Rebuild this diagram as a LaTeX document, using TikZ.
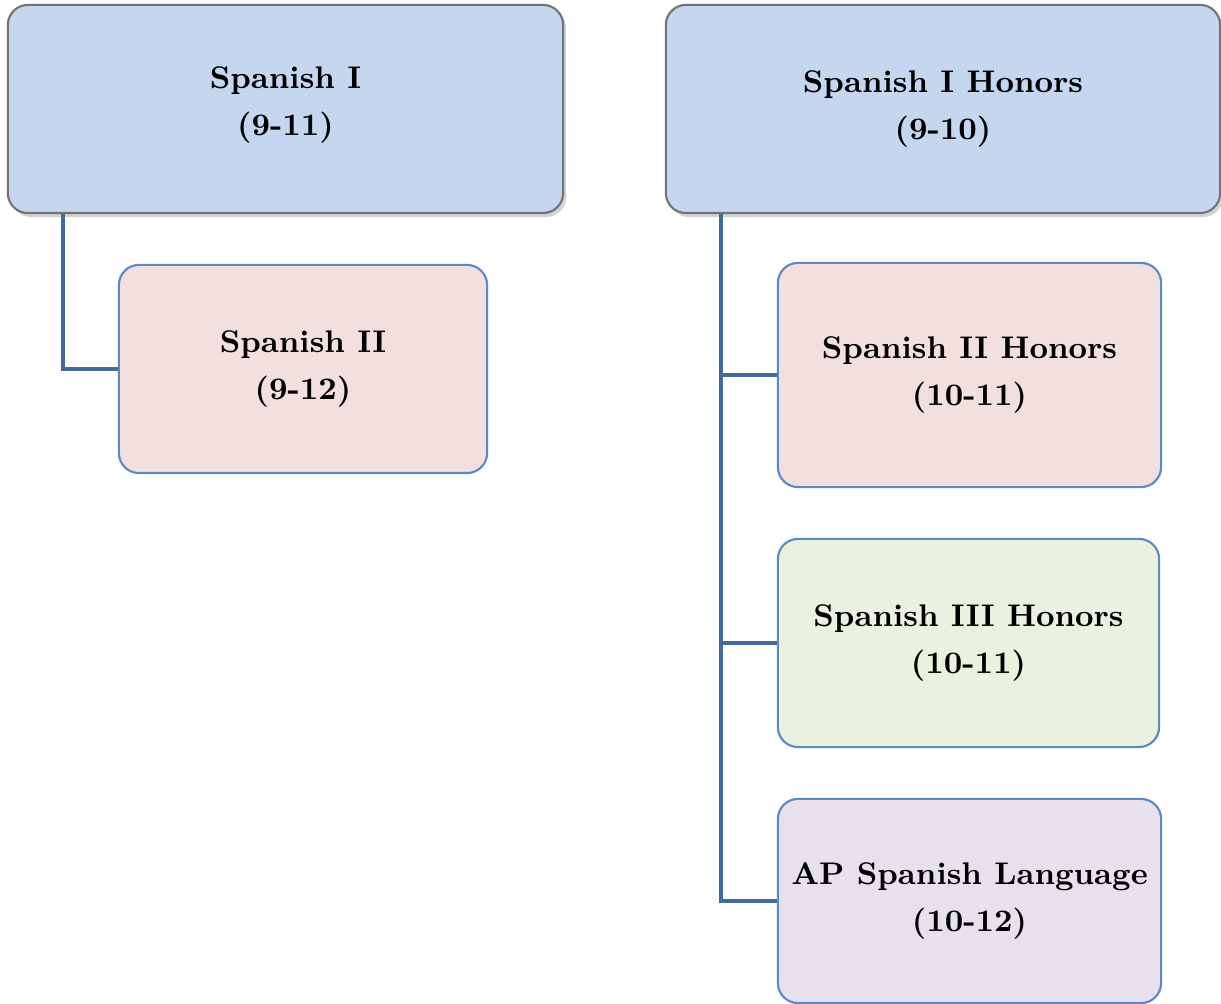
\documentclass[tikz,border=0pt]{standalone}
\usetikzlibrary{shadows}
\definecolor{boxblue}{HTML}{C5D7EE}
\definecolor{boxpink}{HTML}{F2DFDE}
\definecolor{boxgreen}{HTML}{EBF1DF}
\definecolor{boxlilac}{HTML}{E6E1EC}
\definecolor{edgeblue}{HTML}{5B89C4}
\definecolor{linkblue}{HTML}{44699B}
\tikzset{
  course/.style={draw=edgeblue,line width=0.6pt,rounded corners=0.2cm,
    align=center,inner sep=0pt,
    font=\fontsize{8.9}{13.4}\selectfont\bfseries},
  topcourse/.style={course,draw=black!55,fill=boxblue,
    drop shadow={shadow xshift=0.03cm,shadow yshift=-0.04cm,opacity=0.35}},
  link/.style={draw=linkblue,line width=1.2pt}
}
\begin{document}
\begin{tikzpicture}[x=0.01cm,y=-0.01cm]
  \useasboundingbox (0,0) rectangle (1221,1004);
  %% left
  \node[topcourse,minimum width=5.55cm,minimum height=2.08cm] (sp1) at (285.5,109)
    {Spanish I\\(9-11)\rule[-0.15cm]{0pt}{0.15cm}};
  \node[course,fill=boxpink,minimum width=3.68cm,minimum height=2.08cm] (sp2) at (303,369)
    {Spanish II\\(9-12)};
  \draw[link] ([xshift=0.56cm]sp1.south west) |- (sp2.west);
  %% right
  \node[topcourse,minimum width=5.54cm,minimum height=2.08cm] (sp1h) at (943,109)
    {Spanish I Honors\\(9-10)};
  \node[course,fill=boxpink,minimum width=3.83cm,minimum height=2.24cm] (sp2h) at (969.5,375)
    {Spanish II Honors\\(10-11)};
  \node[course,fill=boxgreen,minimum width=3.81cm,minimum height=2.08cm] (sp3h) at (968.5,643)
    {Spanish III Honors\\(10-11)};
  \node[course,fill=boxlilac,minimum width=3.83cm,minimum height=2.04cm] (apsl) at (969.5,901)
    {AP Spanish Language\\(10-12)};
  \draw[link] ([xshift=0.56cm]sp1h.south west) |- (sp2h.west);
  \draw[link] ([xshift=0.56cm]sp1h.south west) |- (sp3h.west);
  \draw[link] ([xshift=0.56cm]sp1h.south west) |- (apsl.west);
\end{tikzpicture}
\end{document}
